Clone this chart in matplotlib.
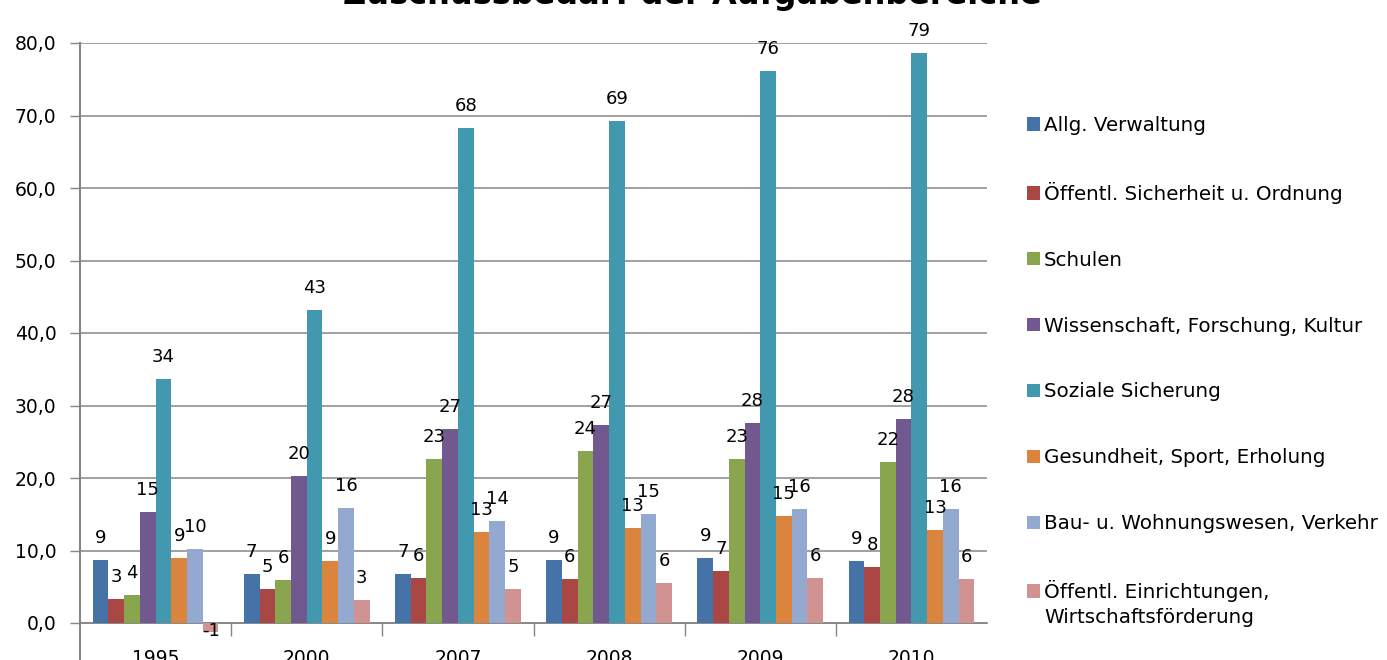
import matplotlib
matplotlib.use("Agg")
import matplotlib.pyplot as plt
import numpy as np
import math
from matplotlib.ticker import FuncFormatter, FixedLocator

years = ["1995", "2000", "2007", "2008", "2009", "2010"]
series_names = [
    "Allg. Verwaltung",
    "Öffentl. Sicherheit u. Ordnung",
    "Schulen",
    "Wissenschaft, Forschung, Kultur",
    "Soziale Sicherung",
    "Gesundheit, Sport, Erholung",
    "Bau- u. Wohnungswesen, Verkehr",
    "Öffentl. Einrichtungen,\nWirtschaftsförderung",
]
allg_verwaltung = [8.7, 6.8, 6.8, 8.7, 9.0, 8.6]
sicherheit = [3.3, 4.7, 6.2, 6.1, 7.2, 7.7]
schulen = [3.9, 5.9, 22.6, 23.7, 22.6, 22.2]
wissenschaft = [15.3, 20.3, 26.8, 27.3, 27.6, 28.1]
soziale = [33.7, 43.2, 68.3, 69.2, 76.1, 78.6]
gesundheit = [9.0, 8.6, 12.6, 13.1, 14.8, 12.8]
bau = [10.2, 15.9, 14.1, 15.0, 15.7, 15.7]
einrichtungen = [-1.2, 3.2, 4.7, 5.5, 6.2, 6.1]

colors = ["#4572A7", "#AA4643", "#89A54E", "#71588F", "#4198AF", "#DB843D", "#93A9CF", "#D19392"]

all_series = [allg_verwaltung, sicherheit, schulen, wissenschaft, soziale, gesundheit, bau, einrichtungen]


def rnd(v):
    return int(math.floor(abs(v) + 0.5)) * (1 if v >= 0 else -1)


W, H = 1387, 660
fig = plt.figure(figsize=(W / 100, H / 100), dpi=100)
plt.rcParams['font.family'] = ['DejaVu Sans']

left = 80 / W
right = 987 / W
y80 = (H - 43) / H
ym10 = (H - 695.5) / H
ax = fig.add_axes([left, ym10, right - left, y80 - ym10])

x = np.arange(len(years))
w = 0.104
handles = []
for j, (vals, c, name) in enumerate(zip(all_series, colors, series_names)):
    pos = x + (j - 3.5) * w
    b = ax.bar(pos, vals, width=w, color=c, label=name, zorder=3, linewidth=0)
    handles.append(b)
    for xi, v in zip(pos, vals):
        off = 22 if v >= 0 else 1
        ax.annotate(f"{rnd(v):d}", (xi, v), xytext=(0, off), textcoords="offset pixels",
                    ha="center", va="center", fontsize=13, color="black", zorder=5)

ax.set_xlim(-0.5, len(years) - 0.5)
ax.set_ylim(-10, 80)

gray = "#868686"
ax.set_yticks(np.arange(0, 81, 10))
ax.yaxis.set_major_formatter(FuncFormatter(lambda v, p: f"{v:.1f}".replace(".", ",")))
ax.yaxis.grid(True, color=gray, linewidth=1.1, zorder=0)
ax.tick_params(axis="y", direction="out", length=7, width=1, color=gray, labelsize=13.5, pad=10)

ax.spines["top"].set_visible(False)
ax.spines["right"].set_visible(False)
ax.spines["left"].set_color(gray)
ax.spines["left"].set_linewidth(1.5)
ax.spines["bottom"].set_position(("data", 0))
ax.spines["bottom"].set_color(gray)
ax.spines["bottom"].set_linewidth(1.2)

ax.set_xticks(x)
ax.set_xticklabels(years)
ax.xaxis.set_minor_locator(FixedLocator(np.arange(0.5, len(years) - 0.5, 1.0)))
ax.tick_params(axis="x", which="major", length=0, labelsize=13.5, pad=19)
ax.tick_params(axis="x", which="minor", direction="out", length=9, width=1, color=gray)

fig.text(692 / W, 1 - 4 / H, "Zuschussbedarf der Aufgabenbereiche", ha="center", va="baseline",
         fontsize=23, fontweight="bold")

first_lines = [n.split("\n")[0] for n in series_names]
leg = fig.legend(handles=handles, labels=first_lines, loc="upper left",
                 bbox_to_anchor=(1027 / W, 1 - 116 / H), frameon=False,
                 fontsize=14.3, handlelength=0.66, handleheight=0.66, handletextpad=0.2,
                 labelspacing=2.36, borderpad=0, borderaxespad=0)

fig.canvas.draw()
last_txt = leg.get_texts()[-1]
bb = last_txt.get_window_extent(fig.canvas.get_renderer())
for k, extra in enumerate(series_names[-1].split("\n")[1:], start=1):
    fig.text(bb.x0 / W, (bb.y0 - 25 * k) / H, extra, ha="left", va="bottom", fontsize=14.3)

fig.savefig("out.png", dpi=100)
